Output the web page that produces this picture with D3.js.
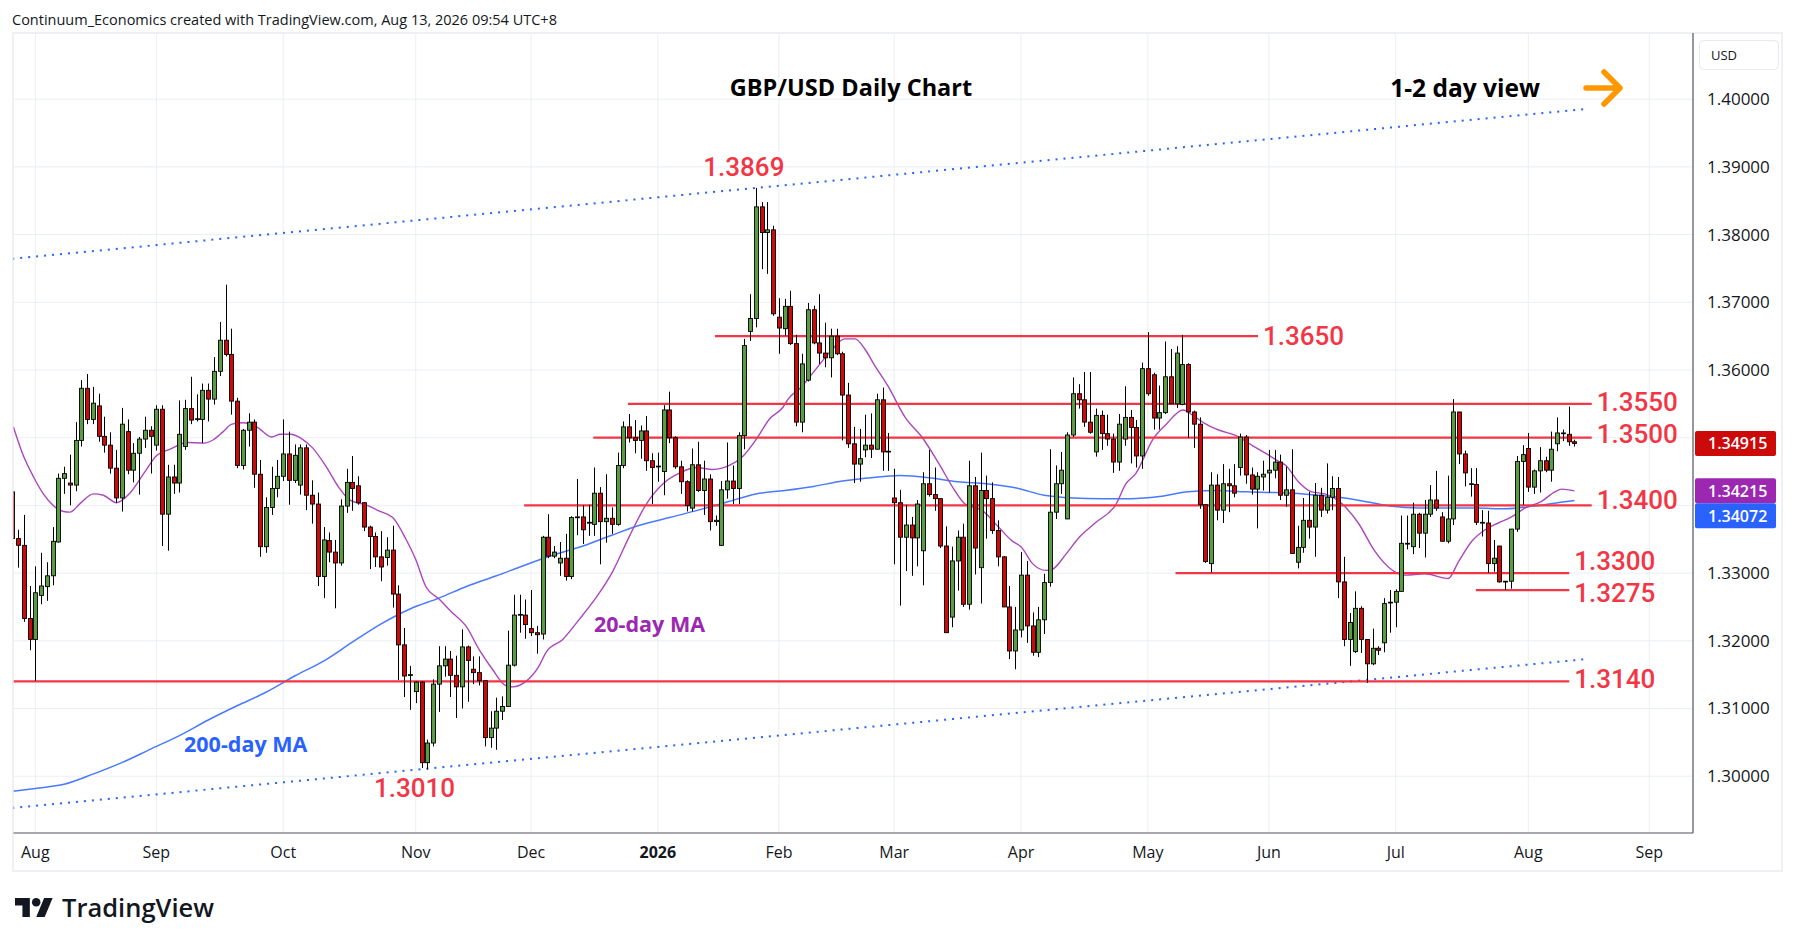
<!DOCTYPE html>
<html><head><meta charset="utf-8">
<script src="https://cdn.jsdelivr.net/npm/d3@7"></script>
<style>html,body{margin:0;padding:0;background:#fff;overflow:hidden}svg{display:block}</style>
</head><body><svg id="c" width="1794" height="946"></svg>
<script>
// ---------------- DATA ----------------
const firstDay = "2025-07-28";
const lastCalendarDay = "2026-09-15";
const holidays = ["2025-12-25", "2026-01-01"];
const monthLabels = ["Aug","Sep","Oct","Nov","Dec","2026","Feb","Mar","Apr","May","Jun","Jul","Aug","Sep"];
const priceTicks = [1.30,1.31,1.32,1.33,1.34,1.35,1.36,1.37,1.38,1.39,1.40];

const open = [1.3420,1.3351,1.3341,1.3233,1.3202,
1.3267,1.3280,1.3296,1.3346,1.3440,1.3433,1.3430,1.3496,1.3573,1.3527,
1.3547,1.3502,1.3489,1.3455,1.3411,1.3509,1.3452,1.3477,1.3498,1.3511,
1.3489,1.3542,1.3387,1.3442,1.3433,1.3487,1.3543,1.3527,1.3527,1.3570,
1.3557,1.3598,1.3644,1.3623,1.3554,1.3459,1.3511,1.3523,1.3446,1.3339,
1.3397,1.3425,1.3443,1.3476,1.3437,1.3430,1.3485,1.3415,1.3402,1.3295,
1.3348,1.3331,1.3315,1.3399,1.3434,1.3429,1.3404,1.3368,1.3354,1.3324,
1.3323,1.3334,1.3269,1.3194,1.3149,1.3125,1.3139,1.3020,1.3049,1.3136,
1.3163,1.3173,1.3149,1.3132,1.3191,1.3158,1.3153,1.3141,1.3057,1.3071,
1.3096,1.3103,1.3164,1.3238,1.3238,1.3218,1.3212,1.3210,1.3353,1.3325,
1.3315,1.3322,1.3295,1.3382,1.3383,1.3374,1.3372,1.3418,1.3376,1.3381,
1.3372,1.3459,1.3516,1.3500,1.3496,1.3510,1.3466,1.3457,1.3450,1.3541,
1.3500,1.3457,1.3435,1.3396,1.3460,1.3422,1.3439,1.3376,1.3341,1.3423,
1.3436,1.3425,1.3503,1.3657,1.3676,1.3841,1.3803,1.3807,1.3678,1.3661,
1.3694,1.3639,1.3523,1.3585,1.3689,1.3640,1.3625,1.3618,1.3650,1.3624,
1.3563,1.3491,1.3461,1.3482,1.3489,1.3483,1.3556,1.3480,1.3411,1.3404,
1.3353,1.3371,1.3352,1.3333,1.3432,1.3416,1.3410,1.3340,1.3235,1.3318,
1.3353,1.3254,1.3429,1.3308,1.3422,1.3410,1.3363,1.3324,1.3250,1.3185,
1.3216,1.3297,1.3222,1.3183,1.3231,1.3286,1.3390,1.3432,1.3380,1.3504,
1.3565,1.3556,1.3523,1.3479,1.3533,1.3506,1.3498,1.3464,1.3498,1.3530,
1.3515,1.3473,1.3602,1.3593,1.3529,1.3537,1.3590,1.3550,1.3549,1.3608,
1.3538,1.3520,1.3401,1.3314,1.3430,1.3393,1.3432,1.3429,1.3456,1.3501,
1.3445,1.3424,1.3442,1.3448,1.3452,1.3464,1.3415,1.3423,1.3316,1.3338,
1.3378,1.3368,1.3415,1.3393,1.3412,1.3425,1.3287,1.3202,1.3184,1.3248,
1.3202,1.3166,1.3189,1.3197,1.3257,1.3257,1.3273,1.3344,1.3339,1.3387,
1.3359,1.3387,1.3408,1.3383,1.3347,1.3380,1.3538,1.3476,1.3432,1.3431,
1.3375,1.3374,1.3314,1.3340,1.3288,1.3288,1.3365,1.3465,1.3484,1.3427,
1.3451,1.3466,1.3452,1.3491,1.3507,1.3505,1.3494];

const high = [1.3432,1.3364,1.3386,1.3281,1.3310,
1.3330,1.3316,1.3368,1.3447,1.3457,1.3475,1.3523,1.3585,1.3594,1.3575,
1.3565,1.3531,1.3508,1.3482,1.3544,1.3527,1.3492,1.3501,1.3531,1.3517,
1.3548,1.3548,1.3460,1.3460,1.3555,1.3556,1.3590,1.3564,1.3580,1.3580,
1.3619,1.3671,1.3726,1.3661,1.3559,1.3513,1.3536,1.3527,1.3467,1.3412,
1.3457,1.3467,1.3527,1.3509,1.3490,1.3490,1.3490,1.3437,1.3419,1.3368,
1.3360,1.3349,1.3409,1.3454,1.3473,1.3443,1.3405,1.3370,1.3360,1.3362,
1.3353,1.3370,1.3282,1.3219,1.3163,1.3140,1.3140,1.3054,1.3143,1.3192,
1.3192,1.3185,1.3178,1.3217,1.3193,1.3177,1.3177,1.3141,1.3096,1.3116,
1.3118,1.3215,1.3268,1.3268,1.3261,1.3275,1.3222,1.3355,1.3387,1.3340,
1.3346,1.3358,1.3384,1.3439,1.3400,1.3401,1.3456,1.3427,1.3446,1.3397,
1.3478,1.3524,1.3535,1.3526,1.3518,1.3532,1.3477,1.3478,1.3548,1.3568,
1.3502,1.3466,1.3437,1.3484,1.3494,1.3466,1.3446,1.3385,1.3436,1.3493,
1.3459,1.3508,1.3646,1.3712,1.3869,1.3848,1.3848,1.3813,1.3706,1.3705,
1.3717,1.3652,1.3624,1.3699,1.3695,1.3712,1.3670,1.3661,1.3661,1.3627,
1.3581,1.3516,1.3513,1.3534,1.3536,1.3565,1.3574,1.3507,1.3454,1.3423,
1.3401,1.3383,1.3408,1.3449,1.3482,1.3456,1.3410,1.3369,1.3339,1.3363,
1.3373,1.3466,1.3442,1.3478,1.3444,1.3434,1.3378,1.3325,1.3281,1.3250,
1.3331,1.3318,1.3242,1.3250,1.3299,1.3483,1.3459,1.3479,1.3508,1.3589,
1.3579,1.3597,1.3597,1.3543,1.3540,1.3534,1.3506,1.3535,1.3576,1.3541,
1.3526,1.3611,1.3656,1.3596,1.3577,1.3642,1.3631,1.3635,1.3652,1.3610,
1.3540,1.3530,1.3401,1.3449,1.3446,1.3461,1.3454,1.3461,1.3506,1.3504,
1.3456,1.3449,1.3466,1.3482,1.3482,1.3475,1.3457,1.3483,1.3370,1.3411,
1.3420,1.3433,1.3426,1.3462,1.3443,1.3442,1.3324,1.3241,1.3273,1.3251,
1.3202,1.3218,1.3192,1.3263,1.3275,1.3276,1.3385,1.3385,1.3404,1.3389,
1.3408,1.3430,1.3451,1.3390,1.3444,1.3557,1.3538,1.3481,1.3455,1.3455,
1.3393,1.3392,1.3349,1.3340,1.3288,1.3365,1.3473,1.3489,1.3507,1.3453,
1.3486,1.3472,1.3509,1.3530,1.3512,1.3546,1.3497];

const low = [1.3345,1.3308,1.3228,1.3186,1.3141,
1.3254,1.3259,1.3282,1.3345,1.3417,1.3400,1.3421,1.3487,1.3520,1.3520,
1.3494,1.3478,1.3447,1.3404,1.3391,1.3446,1.3434,1.3416,1.3485,1.3447,
1.3481,1.3340,1.3333,1.3417,1.3419,1.3482,1.3520,1.3524,1.3492,1.3524,
1.3549,1.3591,1.3620,1.3534,1.3455,1.3453,1.3487,1.3426,1.3324,1.3330,
1.3386,1.3412,1.3436,1.3401,1.3433,1.3416,1.3393,1.3373,1.3281,1.3263,
1.3316,1.3248,1.3311,1.3389,1.3392,1.3401,1.3362,1.3306,1.3309,1.3288,
1.3311,1.3249,1.3142,1.3117,1.3098,1.3108,1.3012,1.3010,1.3044,1.3095,
1.3147,1.3117,1.3086,1.3100,1.3110,1.3136,1.3134,1.3044,1.3042,1.3039,
1.3083,1.3103,1.3162,1.3212,1.3203,1.3207,1.3181,1.3202,1.3322,1.3322,
1.3296,1.3289,1.3291,1.3356,1.3343,1.3355,1.3355,1.3313,1.3345,1.3358,
1.3370,1.3455,1.3493,1.3477,1.3469,1.3451,1.3402,1.3435,1.3415,1.3492,
1.3454,1.3417,1.3391,1.3391,1.3420,1.3386,1.3363,1.3370,1.3340,1.3410,
1.3402,1.3402,1.3483,1.3643,1.3663,1.3749,1.3742,1.3680,1.3624,1.3651,
1.3637,1.3517,1.3508,1.3583,1.3638,1.3609,1.3604,1.3589,1.3622,1.3496,
1.3485,1.3433,1.3435,1.3471,1.3470,1.3483,1.3451,1.3451,1.3313,1.3252,
1.3303,1.3296,1.3310,1.3282,1.3413,1.3392,1.3337,1.3212,1.3220,1.3274,
1.3250,1.3246,1.3298,1.3255,1.3351,1.3358,1.3310,1.3250,1.3173,1.3158,
1.3205,1.3197,1.3178,1.3176,1.3210,1.3280,1.3380,1.3417,1.3380,1.3501,
1.3543,1.3516,1.3506,1.3472,1.3482,1.3488,1.3448,1.3451,1.3488,1.3462,
1.3456,1.3454,1.3562,1.3512,1.3512,1.3535,1.3550,1.3544,1.3548,1.3500,
1.3485,1.3395,1.3315,1.3301,1.3378,1.3374,1.3390,1.3412,1.3444,1.3432,
1.3416,1.3366,1.3422,1.3419,1.3440,1.3408,1.3398,1.3329,1.3307,1.3330,
1.3351,1.3324,1.3383,1.3388,1.3393,1.3263,1.3192,1.3163,1.3182,1.3182,
1.3138,1.3164,1.3179,1.3183,1.3212,1.3220,1.3273,1.3335,1.3328,1.3337,
1.3323,1.3383,1.3392,1.3347,1.3344,1.3371,1.3461,1.3428,1.3413,1.3371,
1.3354,1.3300,1.3302,1.3286,1.3275,1.3277,1.3361,1.3401,1.3420,1.3417,
1.3419,1.3449,1.3435,1.3480,1.3495,1.3488,1.3487];

const close = [1.3351,1.3341,1.3233,1.3202,1.3271,
1.3281,1.3296,1.3347,1.3440,1.3447,1.3430,1.3496,1.3573,1.3527,1.3551,
1.3502,1.3489,1.3455,1.3411,1.3520,1.3452,1.3477,1.3498,1.3511,1.3502,
1.3542,1.3387,1.3442,1.3433,1.3505,1.3543,1.3526,1.3528,1.3570,1.3557,
1.3598,1.3644,1.3623,1.3554,1.3459,1.3511,1.3523,1.3446,1.3339,1.3397,
1.3425,1.3443,1.3476,1.3437,1.3474,1.3485,1.3415,1.3402,1.3295,1.3349,
1.3331,1.3315,1.3399,1.3434,1.3425,1.3404,1.3368,1.3354,1.3324,1.3309,
1.3334,1.3269,1.3194,1.3148,1.3150,1.3139,1.3020,1.3049,1.3136,1.3163,
1.3173,1.3149,1.3132,1.3191,1.3171,1.3153,1.3141,1.3057,1.3071,1.3096,
1.3103,1.3164,1.3238,1.3239,1.3224,1.3212,1.3209,1.3353,1.3325,1.3331,
1.3322,1.3295,1.3382,1.3383,1.3364,1.3375,1.3418,1.3376,1.3381,1.3372,
1.3459,1.3516,1.3500,1.3496,1.3510,1.3466,1.3456,1.3458,1.3541,1.3500,
1.3457,1.3435,1.3400,1.3460,1.3422,1.3439,1.3376,1.3378,1.3423,1.3436,
1.3425,1.3503,1.3636,1.3676,1.3841,1.3803,1.3807,1.3683,1.3662,1.3694,
1.3639,1.3523,1.3609,1.3689,1.3640,1.3625,1.3618,1.3650,1.3624,1.3563,
1.3491,1.3461,1.3469,1.3489,1.3483,1.3556,1.3479,1.3479,1.3404,1.3353,
1.3371,1.3352,1.3402,1.3432,1.3416,1.3410,1.3340,1.3212,1.3318,1.3353,
1.3254,1.3429,1.3337,1.3422,1.3410,1.3363,1.3324,1.3250,1.3185,1.3216,
1.3297,1.3222,1.3183,1.3231,1.3286,1.3390,1.3432,1.3452,1.3504,1.3565,
1.3556,1.3523,1.3508,1.3533,1.3506,1.3498,1.3464,1.3520,1.3530,1.3515,
1.3473,1.3602,1.3565,1.3529,1.3537,1.3590,1.3550,1.3625,1.3608,1.3538,
1.3520,1.3401,1.3317,1.3430,1.3393,1.3432,1.3429,1.3418,1.3501,1.3445,
1.3424,1.3443,1.3446,1.3452,1.3464,1.3415,1.3423,1.3329,1.3338,1.3378,
1.3368,1.3415,1.3393,1.3412,1.3425,1.3287,1.3202,1.3227,1.3248,1.3202,
1.3166,1.3189,1.3186,1.3255,1.3257,1.3273,1.3344,1.3344,1.3387,1.3359,
1.3387,1.3408,1.3396,1.3347,1.3380,1.3538,1.3476,1.3448,1.3432,1.3375,
1.3375,1.3314,1.3322,1.3287,1.3288,1.3365,1.3465,1.3475,1.3427,1.3451,
1.3466,1.3452,1.3483,1.3507,1.3506,1.3494,1.34915];

// moving averages: [bar number, value]
const ma20 = [[0.2,1.3516],[1.9,1.3474],[3.7,1.3442],[5.4,1.3417],[7.1,1.3400],[8.9,1.3391],[10,1.3390],[11.8,1.3403],[14.1,1.3417],[15.8,1.3415],[18.1,1.3404],[20.4,1.3418],[22.8,1.3447],[25.1,1.3474],[27.4,1.3483],[30.3,1.3493],[33.2,1.3492],[34.9,1.3497],[36.6,1.3509],[38.1,1.3520],[40.1,1.3522],[42.4,1.3516],[45,1.3501],[46.5,1.3505],[48.2,1.3505],[50.3,1.3498],[52.1,1.3485],[54.4,1.3458],[56.7,1.3426],[58.4,1.3409],[61.9,1.3399],[63.6,1.3392],[66,1.3382],[68.3,1.3350],[70,1.3320],[71.7,1.3281],[74,1.3262],[76.4,1.3241],[78.7,1.3222],[81,1.3187],[83.3,1.3158],[85.6,1.3134],[86.8,1.3132],[89.1,1.3140],[91.4,1.3163],[92.6,1.3183],[95.5,1.3202],[98.4,1.3232],[101.3,1.3264],[104.2,1.3303],[107.1,1.3355],[110,1.3402],[112.9,1.3432],[115.8,1.3448],[118.7,1.3456],[121.5,1.3453],[124.4,1.3459],[126.8,1.3473],[129.1,1.3498],[131.4,1.3528],[133.7,1.3545],[134.6,1.3557],[136.9,1.3575],[139.2,1.3599],[142.1,1.3629],[144.4,1.3646],[146.2,1.3646],[147.9,1.3631],[149.6,1.3607],[152,1.3575],[154.9,1.3530],[157.8,1.3501],[160.6,1.3464],[163.5,1.3422],[165.3,1.3402],[168.2,1.3393],[171.1,1.3368],[173.4,1.3348],[175.1,1.3338],[177,1.3314],[179.3,1.3304],[180.5,1.3306],[182.8,1.3328],[185.1,1.3353],[188,1.3375],[191.5,1.3402],[193.2,1.3432],[194.9,1.3447],[197.9,1.3498],[200.2,1.3520],[203.1,1.3541],[204.8,1.3533],[207.1,1.3520],[209.4,1.3511],[212.3,1.3503],[215.2,1.3488],[217.6,1.3476],[219.9,1.3464],[220.8,1.3460],[223.1,1.3435],[225.4,1.3420],[227.7,1.3417],[230.6,1.3403],[233.5,1.3374],[236.4,1.3332],[239.3,1.3305],[241.6,1.3297],[245,1.3299],[249.1,1.3292],[250.9,1.3317],[253.2,1.3347],[255.5,1.3364],[257.8,1.3374],[260.1,1.3383],[262.4,1.3396],[265.3,1.3406],[267.6,1.3420],[268.8,1.3424],[271,1.34215]];
const ma200 = [[0.2,1.2978],[4,1.2982],[9,1.2988],[14,1.3003],[19,1.3020],[24,1.3040],[29,1.3060],[34,1.3083],[39,1.3104],[44,1.3124],[49,1.3148],[54,1.3170],[59,1.3198],[64,1.3225],[69,1.3247],[74,1.3263],[79,1.3281],[84,1.3296],[89,1.3312],[94,1.3327],[99,1.3340],[104,1.3356],[109,1.3371],[114,1.3382],[119,1.3393],[124,1.3405],[129,1.3417],[134,1.3422],[139,1.3428],[144,1.3436],[149,1.3441],[154,1.3444],[159,1.3441],[164,1.3435],[169,1.3432],[174,1.3426],[179,1.3415],[184,1.3411],[189,1.3410],[194,1.3410],[199,1.3413],[204,1.3420],[209,1.3422],[214,1.3420],[219,1.3419],[224,1.3417],[229,1.3413],[234,1.3407],[239,1.3399],[244,1.3396],[249,1.3396],[254,1.3396],[259,1.3395],[264,1.3399],[269,1.3405],[271,1.34072]];

// trend channel anchors: [bar number, price]
const channelUpper = [[0, 1.37643], [273.2, 1.39858]];
const channelLower = [[0, 1.29531], [273.2, 1.31731]];

// horizontal levels
const levelPrices = [1.3650, 1.3550, 1.3500, 1.3400, 1.3300, 1.3275, 1.3140];
const levelTexts  = ["1.3650","1.3550","1.3500","1.3400","1.3300","1.3275","1.3140"];
const levelFromBar = [121.9, 106.8, 100.8, 88.8, 201.8, 253.9, 0];
const levelToBar   = [216.1, 274.0, 274.0, 274.0, 270.1, 270.1, 270.1];
const levelLabelShift = [-1, -2, -4.5, -6, -12, 3, -3];

// annotated extremes
const peakBar = 129, peakText = "1.3869";
const troughBar = 71, troughText = "1.3010";

const titleText = "GBP/USD Daily Chart";
const viewText = "1-2 day view";
const headerText = "Continuum_Economics created with TradingView.com, Aug 13, 2026 09:54 UTC+8";

// ---------------- CALENDAR ----------------
const parse = d3.timeParse("%Y-%m-%d"), fmt = d3.timeFormat("%Y-%m-%d");
const calendar = d3.timeDay.range(parse(firstDay), parse(lastCalendarDay))
  .filter(d => d.getDay() !== 0 && d.getDay() !== 6 && !holidays.includes(fmt(d)));
const bars = open.map((o, k) => ({k, date: calendar[k], o, h: high[k], l: low[k], c: close[k]}));
const monthStarts = [];
calendar.forEach((d, k) => { if (k > 0 && d.getMonth() !== calendar[k-1].getMonth()) monthStarts.push(k); });

// ---------------- LAYOUT ----------------
const svg = d3.select("#c");
const P = {left: 13.5, top: 33, right: 1693, bottom: 833};
const x = d3.scaleLinear().domain([4, 263]).range([35.3, 1528.3]);
const y = d3.scaleLinear().domain([1.30, 1.40]).range([776.2, 99.2]);
const RED = "#f23645", BLUE = "#2962ff", PURPLE = "#9c27b0", GRID = "#eaeef4";
const UP = "#5b9b43", DOWN = "#cc0a0a";
const FONT = "'Open Sans', Roboto, sans-serif";
const LFONT = "Roboto, 'Open Sans', sans-serif";

svg.append("rect").attr("width",1794).attr("height",946).attr("fill","#fff");
svg.append("rect").attr("x",13).attr("y",33).attr("width",1769).attr("height",838)
  .attr("fill","none").attr("stroke","#eef0f3").attr("stroke-width",2);

svg.append("text").attr("x",12).attr("y",25).text(headerText)
  .attr("font-family",FONT).attr("font-size",14.5).attr("fill","#131722");

svg.append("defs").append("clipPath").attr("id","plot")
  .append("rect").attr("x",P.left).attr("y",P.top).attr("width",P.right-P.left).attr("height",P.bottom-P.top);

// grid
const grid = svg.append("g");
grid.selectAll(".hg").data(priceTicks).join("line")
  .attr("x1",P.left).attr("x2",P.right).attr("y1",d=>y(d)).attr("y2",d=>y(d))
  .attr("stroke",GRID).attr("stroke-width",1);
grid.selectAll(".vg").data(monthStarts).join("line")
  .attr("x1",d=>x(d)).attr("x2",d=>x(d)).attr("y1",P.top).attr("y2",P.bottom)
  .attr("stroke",GRID).attr("stroke-width",1);

const plot = svg.append("g").attr("clip-path","url(#plot)");

// channel lines
const lineFn = d3.line().x(d=>x(d[0])).y(d=>y(d[1]));
[channelUpper, channelLower].forEach(ch => {
  plot.append("path").attr("d", lineFn(ch)).attr("fill","none")
    .attr("stroke", BLUE).attr("stroke-width",2).attr("stroke-dasharray","2,6");
});

// moving averages
const curve = d3.line().x(d=>x(d[0])).y(d=>y(d[1])).curve(d3.curveMonotoneX);
plot.append("path").attr("d", curve(ma200)).attr("fill","none").attr("stroke",BLUE).attr("stroke-width",1.5).attr("opacity",0.85);
plot.append("path").attr("d", curve(ma20)).attr("fill","none").attr("stroke","#ab47bc").attr("stroke-width",1.4);

// level lines
plot.selectAll(".lvl").data(levelPrices).join("line")
  .attr("x1",(d,i)=>Math.max(P.left, x(levelFromBar[i]))).attr("x2",(d,i)=>x(levelToBar[i]))
  .attr("y1",d=>y(d)).attr("y2",d=>y(d)).attr("stroke",RED).attr("stroke-width",2.2);

// candles
const bw = 3.9;
const cg = plot.append("g");
cg.selectAll(".wick").data(bars).join("line")
  .attr("x1",d=>Math.round(x(d.k))+0.5).attr("x2",d=>Math.round(x(d.k))+0.5)
  .attr("y1",d=>y(d.h)).attr("y2",d=>y(d.l)).attr("stroke","#000").attr("stroke-width",1);
cg.selectAll(".body").data(bars).join("rect")
  .attr("x",d=>Math.round(x(d.k))+0.5-bw/2)
  .attr("y",d=>y(Math.max(d.o,d.c)))
  .attr("width",bw)
  .attr("height",d=>Math.max(0.8, Math.abs(y(d.o)-y(d.c))))
  .attr("fill",d=>d.c>=d.o?UP:DOWN)
  .attr("stroke","#000").attr("stroke-width",0.9);

// axes frame lines
svg.append("line").attr("x1",P.left).attr("x2",P.right).attr("y1",P.bottom).attr("y2",P.bottom).attr("stroke","#50535e").attr("stroke-width",1.2);
svg.append("line").attr("x1",P.right).attr("x2",P.right).attr("y1",P.top).attr("y2",P.bottom).attr("stroke","#50535e").attr("stroke-width",1.2);

// time axis labels
svg.selectAll(".tl").data(monthStarts).join("text")
  .attr("x",d=>x(d)).attr("y",858).attr("text-anchor","middle")
  .attr("font-family",FONT).attr("font-size",16).attr("fill","#131722")
  .attr("font-weight",(d,i)=>monthLabels[i]==="2026"?700:400)
  .text((d,i)=>monthLabels[i]);

// value boxes on price axis
const lastBar = bars[bars.length-1];
const boxes = [
  {v: lastBar.c, color: lastBar.c >= lastBar.o ? UP : DOWN},
  {v: ma20[ma20.length-1][1], color: PURPLE},
  {v: ma200[ma200.length-1][1], color: BLUE}
].map(b => ({...b, cy: y(b.v)})).sort((a,b)=>a.cy-b.cy);
for (let i = 1; i < boxes.length; i++) if (boxes[i].cy - boxes[i-1].cy < 25) boxes[i].cy = boxes[i-1].cy + 25;

// price tick labels, skipping those hidden behind the value boxes
const f5 = d3.format(".5f");
svg.selectAll(".pt").data(priceTicks.filter(p => boxes.every(b => Math.abs(b.cy - y(p)) > 22))).join("text")
  .attr("x",1707).attr("y",d=>y(d)).attr("dy","0.35em")
  .attr("font-family",FONT).attr("font-size",17).attr("fill","#131722").text(d=>f5(d));

const bg = svg.selectAll(".box").data(boxes).join("g");
bg.append("rect").attr("x",1695).attr("y",d=>d.cy-12.5).attr("width",81).attr("height",25).attr("rx",2).attr("fill",d=>d.color);
bg.append("text").attr("x",1708).attr("y",d=>d.cy).attr("dy","0.36em")
  .attr("font-family",FONT).attr("font-size",16).attr("font-weight",600).attr("fill","#fff").text(d=>f5(d.v));

// USD box
svg.append("rect").attr("x",1699.5).attr("y",40.5).attr("width",79).attr("height",29).attr("rx",4)
  .attr("fill","#fff").attr("stroke","#e6e9ef");
svg.append("text").attr("x",1711).attr("y",55).attr("dy","0.35em").text("USD")
  .attr("font-family",FONT).attr("font-size",13).attr("fill","#131722");

// level labels
svg.selectAll(".ll").data(levelPrices).join("text")
  .attr("x",(d,i)=>x(levelToBar[i]) + 5).attr("y",(d,i)=>y(d)+levelLabelShift[i]).attr("dy","0.36em")
  .attr("font-family",LFONT).attr("font-size",26).attr("font-weight",500).attr("fill",RED)
  .text((d,i)=>levelTexts[i]);
svg.append("text").attr("x",x(peakBar)-12).attr("y",y(high[peakBar])-21).attr("dy","0.36em")
  .attr("text-anchor","middle").attr("font-family",LFONT).attr("font-size",26).attr("font-weight",500)
  .attr("fill",RED).text(peakText);
svg.append("text").attr("x",x(troughBar)-7).attr("y",y(low[troughBar])+20).attr("dy","0.36em")
  .attr("text-anchor","middle").attr("font-family",LFONT).attr("font-size",26).attr("font-weight",500)
  .attr("fill",RED).text(troughText);

// MA labels
svg.append("text").attr("x",594).attr("y",624).attr("dy","0.36em").text("20-day MA")
  .attr("font-family",FONT).attr("font-size",21.5).attr("font-weight",700).attr("fill",PURPLE);
svg.append("text").attr("x",184).attr("y",744).attr("dy","0.36em").text("200-day MA")
  .attr("font-family",FONT).attr("font-size",21.5).attr("font-weight",700).attr("fill",BLUE);

// titles
svg.append("text").attr("x",851).attr("y",88).attr("dy","0.36em").attr("text-anchor","middle").text(titleText)
  .attr("font-family",FONT).attr("font-size",23.5).attr("font-weight",700).attr("fill","#000");
svg.append("text").attr("x",1465).attr("y",88).attr("dy","0.36em").attr("text-anchor","middle").text(viewText)
  .attr("font-family",FONT).attr("font-size",24.5).attr("font-weight",700).attr("fill","#000");
svg.append("path").attr("d","M1586,88 L1620,88 M1604,72 L1620,88 L1604,104")
  .attr("fill","none").attr("stroke","#ff9800").attr("stroke-width",5.5)
  .attr("stroke-linecap","round").attr("stroke-linejoin","round");

// TradingView logo
const logo = svg.append("g").attr("transform","translate(15,893.8) scale(1.06)");
logo.append("path").attr("d","M14 22H7V11H0V4h14v18zM28 22h-8l7.5-18h8L28 22z").attr("fill","#131722");
logo.append("circle").attr("cx",20).attr("cy",8).attr("r",4).attr("fill","#131722");
svg.append("text").attr("x",62).attr("y",908).attr("dy","0.36em").text("TradingView")
  .attr("font-family",FONT).attr("font-size",25.5).attr("font-weight",600).attr("fill","#131722");
</script>
</body></html>
